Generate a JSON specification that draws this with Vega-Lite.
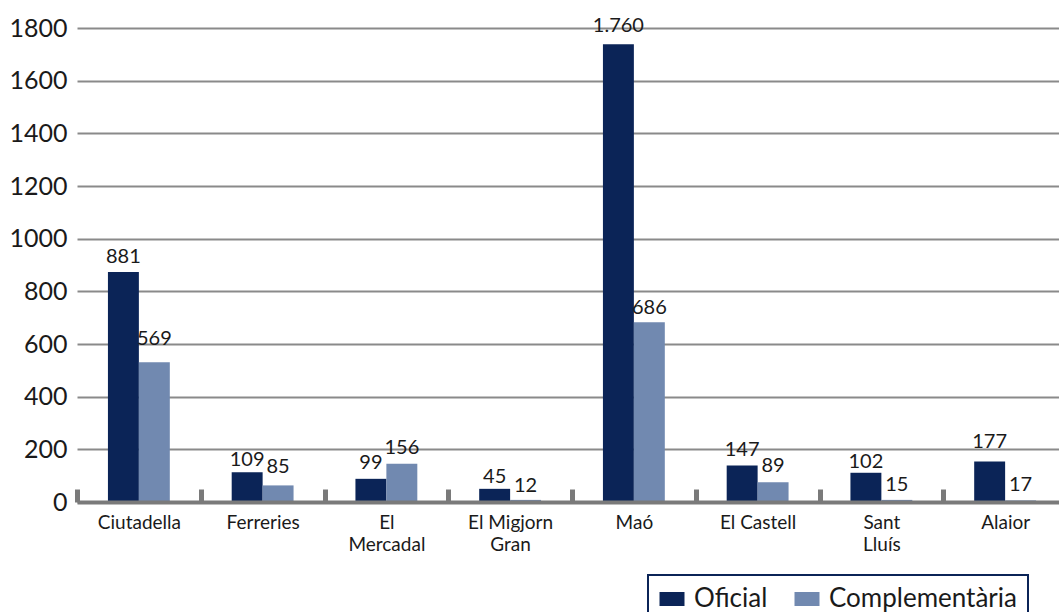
{
  "$schema": "https://vega.github.io/schema/vega-lite/v6.json",
  "width": 982,
  "height": 474,
  "autosize": {"type": "none"},
  "padding": {"left": 77, "top": 28, "right": 0, "bottom": 110},
  "background": "white",
  "config": {
    "font": "Lato",
    "view": {"stroke": null},
    "axis": {"labelFont": "Lato", "labelColor": "#1a1a1a"},
    "legend": {"strokeWidth": 2}
  },
  "data": {
    "values": [
      {"municipi": "Ciutadella", "serie": "Oficial", "barra": 873, "valor": 881, "etiqueta": "881"},
      {"municipi": "Ciutadella", "serie": "Complementària", "barra": 531, "valor": 569, "etiqueta": "569"},
      {"municipi": "Ferreries", "serie": "Oficial", "barra": 113, "valor": 109, "etiqueta": "109"},
      {"municipi": "Ferreries", "serie": "Complementària", "barra": 63, "valor": 85, "etiqueta": "85"},
      {"municipi": "El Mercadal", "serie": "Oficial", "barra": 88, "valor": 99, "etiqueta": "99"},
      {"municipi": "El Mercadal", "serie": "Complementària", "barra": 145, "valor": 156, "etiqueta": "156"},
      {"municipi": "El Migjorn Gran", "serie": "Oficial", "barra": 50, "valor": 45, "etiqueta": "45"},
      {"municipi": "El Migjorn Gran", "serie": "Complementària", "barra": 8, "valor": 12, "etiqueta": "12"},
      {"municipi": "Maó", "serie": "Oficial", "barra": 1738, "valor": 1760, "etiqueta": "1.760"},
      {"municipi": "Maó", "serie": "Complementària", "barra": 683, "valor": 686, "etiqueta": "686"},
      {"municipi": "El Castell", "serie": "Oficial", "barra": 139, "valor": 147, "etiqueta": "147"},
      {"municipi": "El Castell", "serie": "Complementària", "barra": 75, "valor": 89, "etiqueta": "89"},
      {"municipi": "Sant Lluís", "serie": "Oficial", "barra": 111, "valor": 102, "etiqueta": "102"},
      {"municipi": "Sant Lluís", "serie": "Complementària", "barra": 8, "valor": 15, "etiqueta": "15"},
      {"municipi": "Alaior", "serie": "Oficial", "barra": 154, "valor": 177, "etiqueta": "177"},
      {"municipi": "Alaior", "serie": "Complementària", "barra": 6, "valor": 17, "etiqueta": "17"}
    ]
  },
  "encoding": {
    "x": {
      "field": "municipi",
      "type": "nominal",
      "sort": null,
      "scale": {"type": "band", "range": [0, 990], "paddingInner": 0, "paddingOuter": 0},
      "axis": {
        "title": null,
        "labelAngle": 0,
        "labelFontSize": 19,
        "labelLineHeight": 22,
        "labelPadding": 24,
        "labelBaseline": "top",
        "labelOverlap": false,
        "domainColor": "#7a7a7a",
        "domainWidth": 4,
        "ticks": true,
        "tickBand": "extent",
        "tickSize": -13,
        "tickWidth": 5,
        "tickColor": "#7a7a7a",
        "grid": false,
        "zindex": 1,
        "labelExpr": "datum.value == 'El Mercadal' ? ['El', 'Mercadal'] : datum.value == 'El Migjorn Gran' ? ['El Migjorn', 'Gran'] : datum.value == 'Sant Lluís' ? ['Sant', 'Lluís'] : datum.value"
      }
    },
    "xOffset": {
      "field": "serie",
      "type": "nominal",
      "sort": ["Oficial", "Complementària"],
      "scale": {"paddingInner": 0, "paddingOuter": 1}
    }
  },
  "layer": [
    {
      "mark": {"type": "bar"},
      "encoding": {
        "y": {
          "field": "barra",
          "type": "quantitative",
          "scale": {"domain": [0, 1800], "nice": false},
          "axis": {
            "title": null,
            "values": [0, 200, 400, 600, 800, 1000, 1200, 1400, 1600, 1800],
            "labelFontSize": 25,
            "labelPadding": 10,
            "labelOverlap": false,
            "format": "d",
            "domain": false,
            "ticks": false,
            "grid": true,
            "gridColor": "#8a8a8a",
            "gridWidth": 2,
            "gridOpacity": 1
          }
        },
        "color": {
          "field": "serie",
          "type": "nominal",
          "scale": {"domain": ["Oficial", "Complementària"], "range": ["#0b2457", "#7189b0"]},
          "legend": {
            "title": null,
            "orient": "none",
            "legendX": 571,
            "legendY": 547,
            "direction": "horizontal",
            "strokeColor": "#0b2457",
            "padding": 11,
            "labelFontSize": 26,
            "labelFont": "Lato",
            "labelColor": "#1a1a1a",
            "labelLimit": 400,
            "labelOffset": 9,
            "columnPadding": 26,
            "symbolType": "M-1,-0.56H1V0.56H-1Z",
            "symbolSize": 625,
            "symbolStrokeWidth": 0,
            "symbolOpacity": 1
          }
        }
      }
    },
    {
      "mark": {"type": "text", "baseline": "bottom", "dy": -3, "fontSize": 20, "font": "Lato", "color": "#1a1a1a"},
      "encoding": {
        "y": {"field": "valor", "type": "quantitative"},
        "text": {"field": "etiqueta", "type": "nominal"}
      }
    }
  ]
}
